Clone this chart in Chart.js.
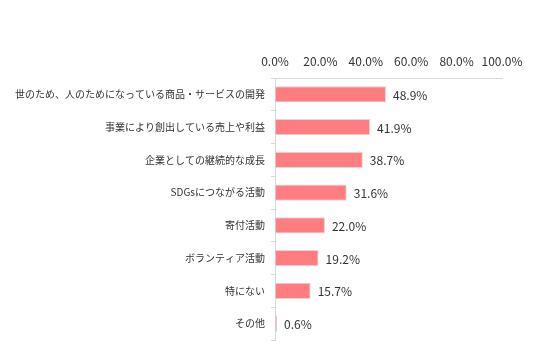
<!DOCTYPE html>
<html>
<head>
<meta charset="utf-8">
<script src="https://cdn.jsdelivr.net/npm/chart.js@4"></script>
<style>
  html, body { margin: 0; padding: 0; background: #fff; }
</style>
</head>
<body>
<canvas id="chart" width="536" height="355"></canvas>
<script>
// data
const categories = [
  '世のため、人のためになっている商品・サービスの開発',
  '事業により創出している売上や利益',
  '企業としての継続的な成長',
  'SDGsにつながる活動',
  '寄付活動',
  'ボランティア活動',
  '特にない',
  'その他'
];
const values = [48.9, 41.9, 38.7, 31.6, 22.0, 19.2, 15.7, 0.6];
const tickValues = [0, 20, 40, 60, 80, 100];

const FONT = "'Noto Sans CJK JP', 'Noto Sans', sans-serif";

// value labels to the right of each bar
const valueLabels = {
  id: 'valueLabels',
  afterDatasetsDraw(chart) {
    const ctx = chart.ctx;
    const meta = chart.getDatasetMeta(0);
    ctx.save();
    ctx.font = '12px ' + FONT;
    ctx.fillStyle = '#333';
    ctx.textAlign = 'left';
    ctx.textBaseline = 'middle';
    meta.data.forEach((bar, i) => {
      ctx.fillText(values[i].toFixed(1) + '%', bar.x + 7, bar.y + 1);
    });
    ctx.restore();
  }
};

const ctx = document.getElementById('chart').getContext('2d');
new Chart(ctx, {
  type: 'bar',
  data: {
    labels: categories,
    datasets: [{
      data: values,
      backgroundColor: '#FF7C80',
      borderColor: '#D9D9D9',
      borderWidth: 1,
      barPercentage: 0.5,
      categoryPercentage: 1.0,
      minBarLength: 2
    }]
  },
  options: {
    indexAxis: 'y',
    responsive: false,
    maintainAspectRatio: false,
    animation: false,
    layout: { padding: { top: 0, right: 34, bottom: 15, left: 0 } },
    plugins: {
      legend: { display: false },
      tooltip: { enabled: false }
    },
    scales: {
      x: {
        position: 'top',
        min: 0,
        max: 100,
        afterBuildTicks(scale) {
          scale.ticks = tickValues.map(v => ({ value: v }));
        },
        afterFit(scale) { scale.height = 78; },
        ticks: {
          color: '#333',
          font: { family: FONT, size: 12 },
          padding: 9,
          maxRotation: 0,
          minRotation: 0,
          autoSkip: false,
          callback: v => v.toFixed(1) + '%'
        },
        grid: { display: true, drawOnChartArea: false, drawTicks: false },
        border: { display: true, color: '#D9D9D9' }
      },
      y: {
        afterFit(scale) { scale.width = 275; },
        ticks: {
          color: '#333',
          font: { family: FONT, size: 10 },
          padding: 6,
          autoSkip: false
        },
        grid: {
          display: true,
          offset: true,
          drawOnChartArea: false,
          drawTicks: true,
          tickLength: 4,
          color: '#D9D9D9'
        },
        border: { display: true, color: '#D9D9D9' }
      }
    }
  },
  plugins: [valueLabels]
});
</script>
</body>
</html>
